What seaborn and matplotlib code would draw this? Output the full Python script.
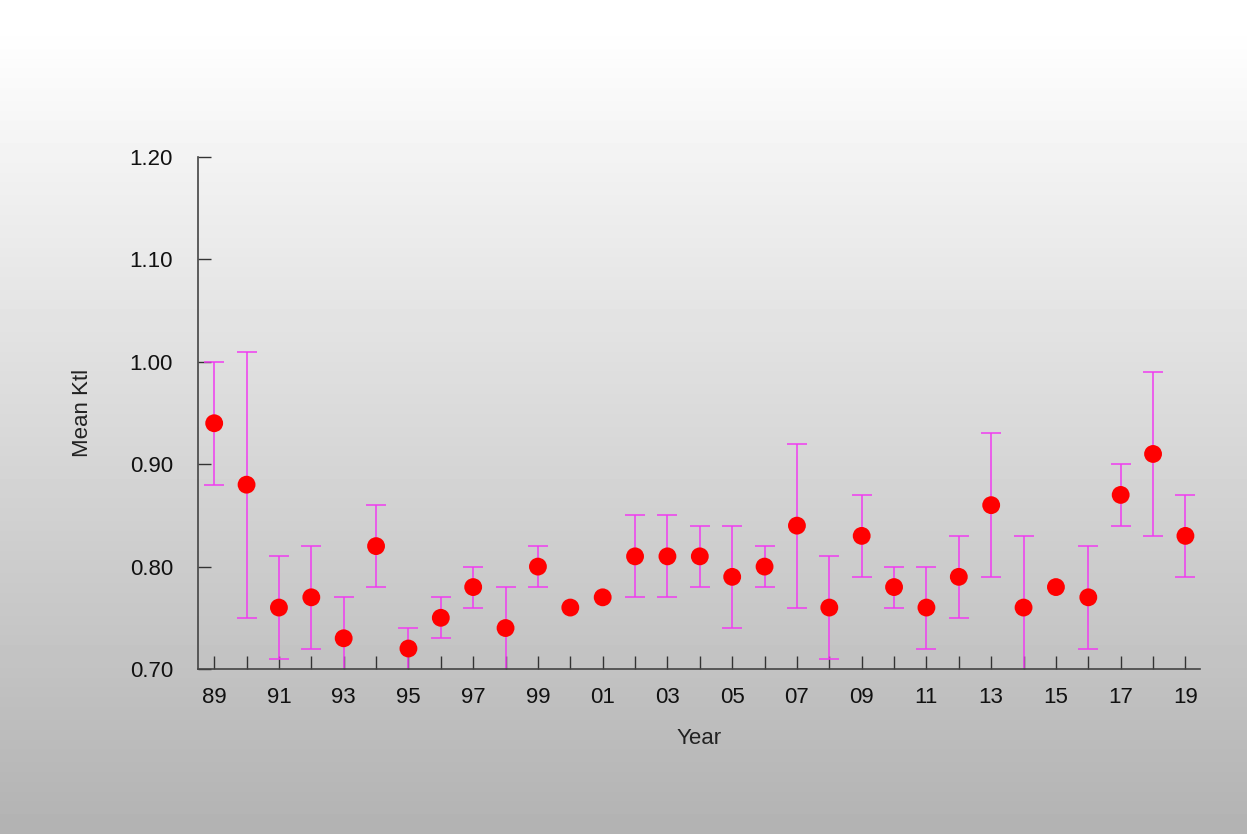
import numpy as np
import pandas as pd
import matplotlib
matplotlib.use("Agg")
import matplotlib.pyplot as plt
import seaborn as sns

# data
years = ["89", "90", "91", "92", "93", "94", "95", "96", "97", "98", "99", "00",
         "01", "02", "03", "04", "05", "06", "07", "08", "09", "10", "11", "12",
         "13", "14", "15", "16", "17", "18", "19"]
mean_ktl = [0.94, 0.88, 0.76, 0.77, 0.73, 0.82, 0.72, 0.75, 0.78, 0.74, 0.80, 0.76,
            0.77, 0.81, 0.81, 0.81, 0.79, 0.80, 0.84, 0.76, 0.83, 0.78, 0.76, 0.79,
            0.86, 0.76, 0.78, 0.77, 0.87, 0.91, 0.83]
upper = [1.00, 1.01, 0.81, 0.82, 0.77, 0.86, 0.74, 0.77, 0.80, 0.78, 0.82, 0.76,
         0.77, 0.85, 0.85, 0.84, 0.84, 0.82, 0.92, 0.81, 0.87, 0.80, 0.80, 0.83,
         0.93, 0.83, 0.78, 0.82, 0.90, 0.99, 0.87]
lower = [0.88, 0.75, 0.71, 0.72, 0.69, 0.78, 0.69, 0.73, 0.76, 0.69, 0.78, 0.76,
         0.77, 0.77, 0.77, 0.78, 0.74, 0.78, 0.76, 0.71, 0.79, 0.76, 0.72, 0.75,
         0.79, 0.69, 0.78, 0.72, 0.84, 0.83, 0.79]

df = pd.DataFrame({"year": years, "mean": mean_ktl, "hi": upper, "lo": lower})
df["pos"] = np.arange(len(df))

sns.set_style("white")
plt.rcParams["font.family"] = ["Liberation Sans", "DejaVu Sans"]

fig = plt.figure(figsize=(12.47, 8.34), dpi=100)

# gradient background, white at top to grey at bottom
bg = fig.add_axes([0, 0, 1, 1], zorder=-10)
t = np.linspace(0, 1, 256)
grad = np.clip(1.0 - 0.30 * (t - 0.03) / 0.97, 0, 1).reshape(-1, 1)
bg.imshow(grad, aspect="auto", cmap="gray", vmin=0, vmax=1, extent=[0, 1, 0, 1])
bg.set_axis_off()

ax = fig.add_axes([198 / 1247, 1 - 669 / 834, 1002 / 1247, 512 / 834])
ax.patch.set_alpha(0)

# years without a visible range get no error bar
eb = df[df["hi"] > df["lo"]]
ax.errorbar(eb["pos"], eb["mean"],
            yerr=[eb["mean"] - eb["lo"], eb["hi"] - eb["mean"]],
            fmt="none", ecolor="#f03cf0", elinewidth=1.1, capsize=7, capthick=1.1,
            zorder=2)
sns.scatterplot(data=df, x="pos", y="mean", ax=ax, color="#ff0000", s=165,
                edgecolor="none", zorder=3, legend=False)

ax.set_xlim(-0.5, 30.45)
ax.set_ylim(0.70, 1.20)
ax.set_yticks([0.70, 0.80, 0.90, 1.00, 1.10, 1.20])
ax.set_yticklabels(["0.70", "0.80", "0.90", "1.00", "1.10", "1.20"])
ax.set_xticks(df["pos"])
ax.set_xticklabels([y if i % 2 == 0 else "" for i, y in enumerate(years)])

for side in ["top", "right"]:
    ax.spines[side].set_visible(False)
for side in ["left", "bottom"]:
    ax.spines[side].set_color("#444444")
    ax.spines[side].set_linewidth(1.2)

ax.tick_params(axis="both", direction="in", length=9.5, width=1.0,
               color="#333333", labelsize=16, labelcolor="#111111",
               bottom=True, left=True)
ax.tick_params(axis="x", pad=13)
ax.tick_params(axis="y", pad=18)

ax.set_xlabel("Year", fontsize=16, labelpad=14, color="#222222")
ax.set_ylabel("Mean Ktl", fontsize=16, labelpad=26, color="#222222")

fig.savefig("out.png", dpi=100)
